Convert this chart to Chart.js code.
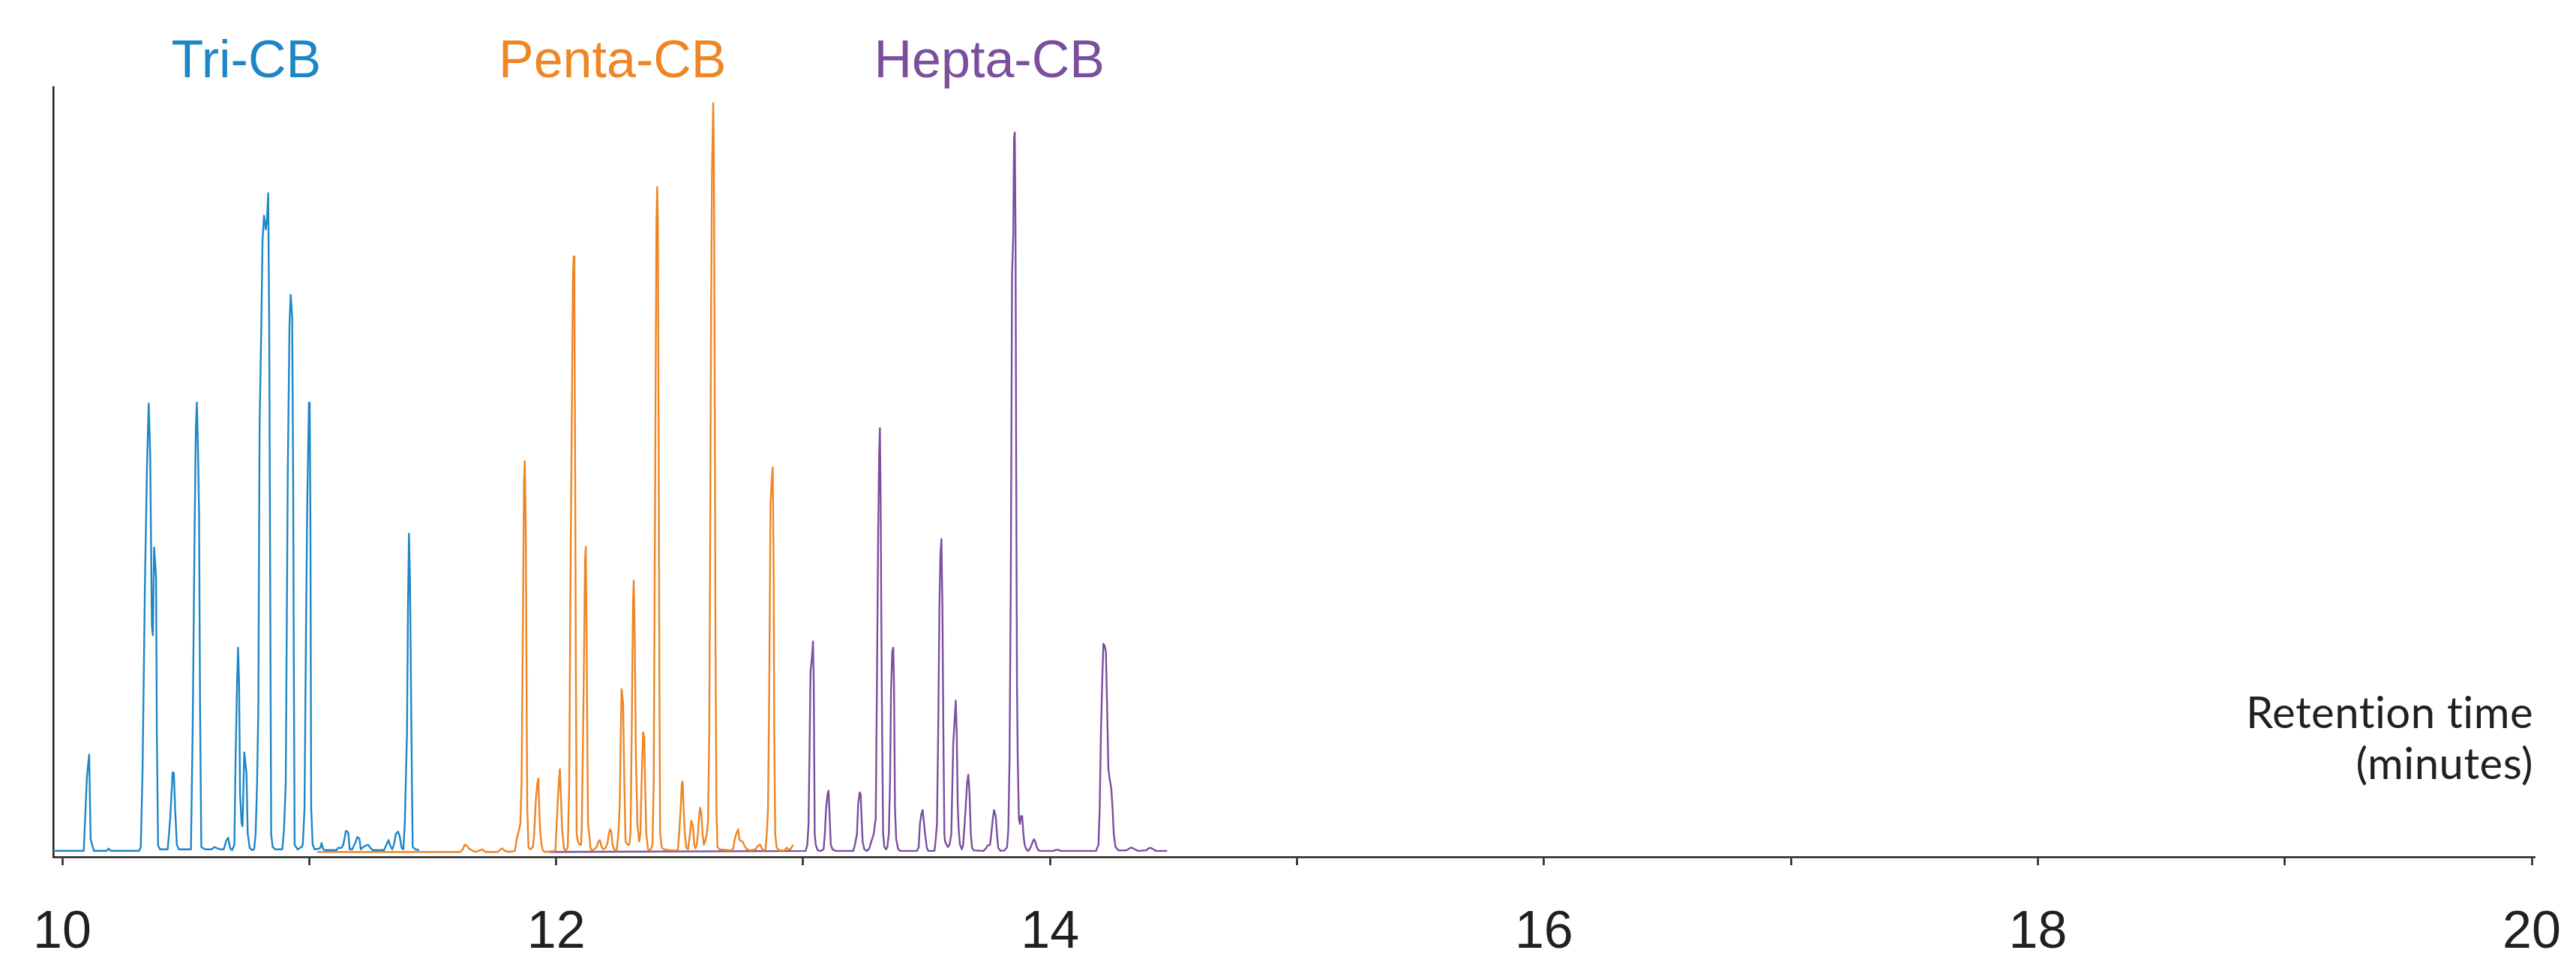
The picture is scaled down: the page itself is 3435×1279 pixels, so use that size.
<!DOCTYPE html>
<html>
<head>
<meta charset="utf-8">
<title>PCB chromatogram</title>
<script src="https://cdn.jsdelivr.net/npm/chart.js@4/dist/chart.umd.min.js"></script>
<style>
  html, body { margin: 0; padding: 0; background: #ffffff; }
  #chart { display: block; }
</style>
</head>
<body>
<canvas id="chart" width="3435" height="1279" style="width:3435px;height:1279px"></canvas>
<script>
// Retention time (minutes) and relative response
const triTime = [9.96, 10.087, 10.100, 10.109, 10.115, 10.128, 10.180, 10.188, 10.196, 10.311, 10.318, 10.325, 10.335, 10.343, 10.350, 10.356, 10.363, 10.367, 10.372, 10.380, 10.383, 10.388, 10.396, 10.427, 10.437, 10.447, 10.452, 10.457, 10.464, 10.472, 10.521, 10.528, 10.536, 10.541, 10.545, 10.550, 10.554, 10.558, 10.563, 10.578, 10.604, 10.617, 10.629, 10.642, 10.654, 10.665, 10.672, 10.680, 10.688, 10.697, 10.702, 10.708, 10.712, 10.716, 10.720, 10.726, 10.730, 10.737, 10.746, 10.751, 10.759, 10.769, 10.777, 10.783, 10.789, 10.794, 10.799, 10.806, 10.811, 10.817, 10.820, 10.824, 10.829, 10.834, 10.838, 10.842, 10.846, 10.852, 10.862, 10.891, 10.898, 10.905, 10.913, 10.920, 10.925, 10.931, 10.935, 10.938, 10.941, 10.953, 10.969, 10.974, 10.981, 10.987, 10.992, 10.999, 11.002, 11.005, 11.008, 11.014, 11.022, 11.040, 11.045, 11.050, 11.057, 11.065, 11.111, 11.117, 11.131, 11.138, 11.149, 11.158, 11.164, 11.174, 11.186, 11.195, 11.203, 11.209, 11.219, 11.229, 11.239, 11.247, 11.257, 11.303, 11.313, 11.321, 11.328, 11.336, 11.343, 11.351, 11.360, 11.367, 11.374, 11.381, 11.387, 11.392, 11.396, 11.400, 11.404, 11.408, 11.411, 11.416, 11.419, 11.430, 11.445];
const triValue = [0.8, 0.8, 10.5, 13.3, 2.3, 0.8, 0.8, 1.1, 0.8, 0.8, 1.3, 10.9, 35.9, 50.4, 58.9, 52.4, 30.0, 28.8, 40.2, 36.3, 16.2, 1.5, 1.0, 1.0, 4.9, 11.0, 10.9, 6.3, 1.6, 1.0, 1.0, 16.2, 42.5, 55.7, 59.0, 52.4, 44.5, 19.4, 1.3, 1.0, 1.0, 1.3, 1.1, 1.0, 1.0, 2.2, 2.5, 1.1, 0.9, 1.6, 12.9, 22.7, 27.2, 22.7, 8.2, 4.4, 4.0, 13.6, 10.9, 3.0, 1.2, 0.9, 1.0, 3.0, 9.6, 19.4, 55.7, 68.9, 80.1, 83.3, 82.7, 81.5, 82.7, 86.2, 68.9, 35.9, 3.0, 1.3, 1.0, 1.0, 3.6, 9.6, 49.1, 68.9, 73.0, 70.2, 49.1, 22.7, 1.6, 1.0, 1.3, 1.6, 6.3, 29.3, 45.8, 59.0, 59.0, 42.5, 6.3, 1.6, 1.0, 1.1, 1.2, 1.8, 1.0, 0.9, 0.9, 1.2, 1.2, 1.6, 3.4, 3.2, 1.0, 1.0, 1.8, 2.6, 2.4, 1.0, 1.3, 1.5, 1.6, 1.2, 0.9, 0.9, 1.6, 2.2, 1.5, 1.0, 1.6, 3.0, 3.3, 2.6, 1.2, 1.0, 4.3, 10.9, 16.2, 32.6, 42.0, 35.9, 26.0, 9.6, 1.3, 1.0, 0.9];

const pentaTime = [11.033, 11.612, 11.622, 11.630, 11.637, 11.647, 11.663, 11.673, 11.691, 11.701, 11.713, 11.764, 11.774, 11.782, 11.792, 11.810, 11.833, 11.840, 11.847, 11.855, 11.860, 11.865, 11.870, 11.873, 11.877, 11.880, 11.883, 11.888, 11.896, 11.906, 11.911, 11.918, 11.924, 11.928, 11.932, 11.936, 11.941, 11.946, 11.956, 11.997, 12.002, 12.007, 12.012, 12.015, 12.019, 12.024, 12.032, 12.040, 12.047, 12.053, 12.058, 12.063, 12.068, 12.071, 12.074, 12.077, 12.080, 12.083, 12.088, 12.095, 12.101, 12.104, 12.109, 12.114, 12.117, 12.120, 12.123, 12.126, 12.129, 12.134, 12.139, 12.144, 12.154, 12.164, 12.171, 12.177, 12.184, 12.192, 12.200, 12.208, 12.213, 12.218, 12.223, 12.228, 12.235, 12.245, 12.252, 12.257, 12.262, 12.265, 12.271, 12.276, 12.281, 12.289, 12.296, 12.301, 12.306, 12.311, 12.314, 12.318, 12.323, 12.329, 12.336, 12.341, 12.346, 12.352, 12.357, 12.360, 12.365, 12.372, 12.382, 12.390, 12.395, 12.399, 12.403, 12.406, 12.409, 12.412, 12.415, 12.418, 12.421, 12.428, 12.438, 12.463, 12.493, 12.498, 12.504, 12.509, 12.512, 12.516, 12.521, 12.527, 12.534, 12.542, 12.547, 12.554, 12.559, 12.564, 12.569, 12.574, 12.580, 12.583, 12.588, 12.593, 12.598, 12.603, 12.610, 12.615, 12.620, 12.623, 12.627, 12.631, 12.636, 12.639, 12.642, 12.645, 12.649, 12.653, 12.661, 12.706, 12.717, 12.723, 12.729, 12.737, 12.742, 12.747, 12.755, 12.762, 12.772, 12.788, 12.808, 12.818, 12.826, 12.833, 12.840, 12.848, 12.853, 12.858, 12.863, 12.868, 12.873, 12.877, 12.881, 12.883, 12.887, 12.893, 12.904, 12.924, 12.934, 12.941, 12.949, 12.954, 12.960];
const pentaValue = [0.66, 0.66, 1.0, 1.6, 1.5, 1.1, 0.8, 0.66, 0.86, 1.0, 0.66, 0.66, 1.0, 1.12, 0.8, 0.66, 0.79, 2.3, 3.2, 4.3, 9.6, 29.3, 49.1, 51.4, 42.5, 22.7, 6.3, 1.2, 1.0, 1.3, 3.0, 7.6, 9.6, 10.2, 5.6, 3.0, 1.6, 0.86, 0.66, 0.79, 4.3, 7.6, 10.2, 11.4, 8.2, 3.6, 1.0, 0.86, 1.3, 9.6, 35.9, 55.7, 75.5, 78.0, 72.2, 49.1, 22.7, 3.0, 2.0, 1.6, 1.6, 4.3, 16.2, 29.3, 38.6, 40.3, 29.3, 16.2, 4.3, 3.0, 1.12, 0.86, 1.0, 1.3, 2.0, 2.2, 1.3, 1.0, 1.2, 1.8, 3.0, 3.6, 3.3, 1.6, 1.0, 0.86, 3.0, 6.3, 16.2, 21.8, 20.1, 9.6, 2.0, 1.6, 1.6, 3.0, 16.2, 32.6, 35.9, 29.3, 12.9, 4.3, 2.0, 3.0, 9.6, 16.2, 15.5, 9.6, 3.0, 1.0, 0.86, 1.6, 9.6, 35.9, 62.3, 82.1, 87.0, 82.1, 55.7, 22.7, 3.0, 1.2, 1.0, 0.86, 0.86, 3.0, 6.3, 9.6, 9.8, 6.3, 3.0, 1.2, 1.0, 3.0, 4.7, 4.0, 1.6, 1.12, 1.6, 3.0, 5.6, 6.4, 5.6, 3.0, 1.6, 2.0, 3.0, 4.6, 16.2, 35.9, 68.9, 88.7, 97.9, 88.7, 62.3, 29.3, 6.3, 1.3, 1.0, 0.86, 1.1, 2.3, 3.0, 3.6, 2.3, 2.1, 2.0, 1.5, 1.0, 0.86, 1.0, 1.5, 1.6, 1.1, 0.86, 1.0, 3.0, 6.3, 22.7, 45.8, 49.1, 50.6, 35.9, 16.2, 3.0, 1.2, 0.86, 0.86, 1.2, 1.0, 1.0, 1.3, 1.6];

const heptaTime = [11.97, 13.010, 13.017, 13.022, 13.027, 13.030, 13.036, 13.040, 13.043, 13.047, 13.051, 13.059, 13.071, 13.083, 13.088, 13.093, 13.099, 13.103, 13.108, 13.112, 13.119, 13.132, 13.203, 13.210, 13.218, 13.223, 13.229, 13.233, 13.237, 13.241, 13.248, 13.258, 13.268, 13.276, 13.280, 13.286, 13.291, 13.294, 13.299, 13.304, 13.308, 13.311, 13.314, 13.317, 13.320, 13.324, 13.329, 13.336, 13.341, 13.347, 13.352, 13.356, 13.361, 13.365, 13.368, 13.372, 13.377, 13.385, 13.395, 13.461, 13.468, 13.473, 13.479, 13.484, 13.488, 13.494, 13.501, 13.507, 13.532, 13.537, 13.542, 13.547, 13.552, 13.556, 13.560, 13.564, 13.568, 13.572, 13.575, 13.586, 13.593, 13.600, 13.608, 13.613, 13.618, 13.622, 13.626, 13.630, 13.635, 13.643, 13.648, 13.654, 13.659, 13.664, 13.669, 13.674, 13.679, 13.684, 13.691, 13.730, 13.740, 13.747, 13.757, 13.762, 13.768, 13.773, 13.780, 13.785, 13.790, 13.800, 13.816, 13.826, 13.831, 13.836, 13.841, 13.846, 13.851, 13.854, 13.857, 13.860, 13.863, 13.866, 13.869, 13.874, 13.878, 13.882, 13.887, 13.892, 13.897, 13.904, 13.912, 13.922, 13.930, 13.935, 13.940, 13.946, 13.953, 13.963, 14.013, 14.023, 14.034, 14.044, 14.186, 14.196, 14.201, 14.206, 14.211, 14.216, 14.221, 14.226, 14.231, 14.236, 14.241, 14.248, 14.253, 14.258, 14.265, 14.277, 14.307, 14.317, 14.325, 14.333, 14.343, 14.358, 14.388, 14.398, 14.408, 14.418, 14.429, 14.474];
const heptaValue = [0.66, 0.79, 1.6, 4.3, 16.2, 24.1, 26.0, 28.0, 22.7, 3.0, 1.6, 0.86, 0.79, 1.0, 3.0, 6.3, 8.2, 8.6, 4.9, 1.6, 1.0, 0.79, 0.79, 1.6, 3.0, 6.9, 8.4, 8.2, 4.9, 2.0, 1.0, 0.79, 1.1, 2.0, 2.4, 3.0, 4.3, 4.9, 22.7, 42.5, 52.4, 55.7, 45.8, 29.3, 16.2, 3.0, 1.3, 1.0, 1.3, 3.0, 9.6, 21.4, 26.7, 27.2, 22.7, 6.3, 2.3, 1.0, 0.79, 0.79, 1.3, 4.3, 5.6, 6.1, 4.9, 3.0, 1.2, 0.79, 0.79, 2.3, 4.3, 16.2, 32.6, 39.2, 41.3, 32.6, 16.2, 3.0, 2.0, 1.3, 1.6, 3.0, 14.8, 17.5, 20.3, 16.2, 6.9, 3.6, 1.6, 1.0, 1.6, 4.3, 6.9, 9.6, 10.7, 8.2, 3.0, 1.2, 0.86, 0.79, 1.1, 1.5, 1.6, 3.0, 4.9, 6.1, 5.3, 3.0, 1.2, 0.79, 0.86, 1.3, 3.6, 12.9, 35.9, 75.5, 80.8, 93.3, 94.1, 82.1, 49.1, 22.7, 12.9, 4.9, 4.3, 5.3, 5.3, 3.0, 1.6, 1.0, 0.79, 1.3, 2.0, 2.3, 2.0, 1.3, 0.86, 0.79, 0.79, 0.92, 0.92, 0.79, 0.79, 1.6, 6.3, 16.2, 22.7, 27.7, 27.4, 26.7, 19.4, 11.5, 10.2, 8.9, 6.3, 3.0, 1.3, 0.86, 0.86, 1.0, 1.2, 1.2, 1.0, 0.79, 0.86, 1.1, 1.2, 1.0, 0.79, 0.79];

const seriesNames = ['Tri-CB', 'Penta-CB', 'Hepta-CB'];
const seriesColors = ['#1d86c6', '#ef8523', '#7b4e9e'];
const tickValues = [10, 11, 12, 13, 14, 15, 16, 17, 18, 19, 20];
const axisTitle = ['Retention time', '(minutes)'];

const INK = '#231f20';
// where each group name sits, in minutes along the axis
const nameAnchors = [10.745, 12.228, 13.754];

function toPoints(times, values) {
  return times.map((t, i) => ({ x: t, y: values[i] }));
}

const textPlugin = {
  id: 'chromLabels',
  afterDraw(chart) {
    const ctx = chart.ctx;
    const xScale = chart.scales.x;
    ctx.save();
    ctx.textBaseline = 'alphabetic';

    // group names across the top
    ctx.font = '70px "Liberation Sans", Arial, sans-serif';
    ctx.textAlign = 'center';
    seriesNames.forEach((name, i) => {
      ctx.fillStyle = seriesColors[i];
      ctx.fillText(name, xScale.getPixelForValue(nameAnchors[i]), 103);
    });

    // axis title, right aligned above the end of the axis
    // (a little letter spacing keeps Lato from joining "ti")
    ctx.font = '58px Lato, "Open Sans", sans-serif';
    if ('letterSpacing' in ctx) ctx.letterSpacing = '0.5px';
    ctx.textAlign = 'right';
    ctx.fillStyle = INK;
    ctx.fillText(axisTitle[0], 3378, 971);
    ctx.fillText(axisTitle[1], 3378, 1039);
    ctx.restore();
  }
};

const datasets = [
  { times: triTime, values: triValue },
  { times: pentaTime, values: pentaValue },
  { times: heptaTime, values: heptaValue }
].map((s, i) => ({
  label: seriesNames[i],
  data: toPoints(s.times, s.values),
  borderColor: seriesColors[i],
  backgroundColor: seriesColors[i],
  borderWidth: 2.4,
  borderJoinStyle: 'round',
  pointRadius: 0,
  tension: 0,
  fill: false
}));

const ctx = document.getElementById('chart').getContext('2d');
new Chart(ctx, {
  type: 'line',
  data: { datasets: datasets },
  options: {
    responsive: false,
    animation: false,
    devicePixelRatio: 1,
    events: [],
    layout: { padding: { left: 71, right: 55, top: 116, bottom: 0 } },
    plugins: {
      legend: { display: false },
      tooltip: { enabled: false },
      title: { display: false }
    },
    scales: {
      x: {
        type: 'linear',
        min: 9.9635,
        max: 20.012,
        afterBuildTicks(scale) {
          scale.ticks = tickValues.map(v => ({ value: v }));
        },
        afterFit(scale) {
          scale.height = 136;
          // the outer margins are set by layout.padding alone
          scale.paddingLeft = 0;
          scale.paddingRight = 0;
        },
        ticks: {
          autoSkip: false,
          maxRotation: 0,
          padding: 49,
          color: INK,
          font: { family: '"Liberation Sans", Arial, sans-serif', size: 70 },
          callback: value => (value % 2 === 0 ? String(value) : '')
        },
        grid: {
          display: true,
          drawOnChartArea: false,
          drawTicks: true,
          tickLength: 11,
          tickWidth: 2.5,
          tickColor: INK
        },
        border: { display: true, color: INK, width: 2.5 }
      },
      y: {
        type: 'linear',
        min: 0,
        max: 100,
        afterFit(scale) {
          scale.width = 0;
        },
        ticks: { display: false },
        grid: { display: false },
        border: { display: true, color: INK, width: 2.5 }
      }
    }
  },
  plugins: [textPlugin]
});
</script>
</body>
</html>
